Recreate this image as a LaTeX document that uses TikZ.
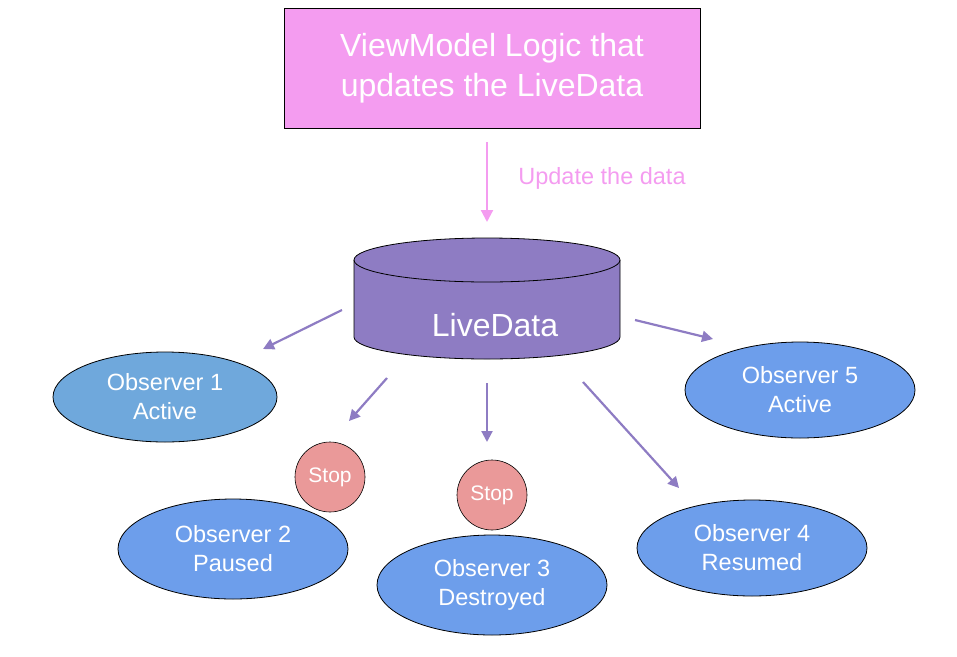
\documentclass[tikz,border=0pt]{standalone}
\usepackage{fontspec}
\setmainfont{Liberation Sans}
\usetikzlibrary{arrows.meta,shapes.geometric}
\definecolor{vmpink}{HTML}{F49CF0}
\definecolor{ldpurple}{HTML}{8E7CC3}
\definecolor{obsblue}{HTML}{6D9EEB}
\definecolor{obsblue1}{HTML}{6FA8DC}
\definecolor{stopred}{HTML}{EA9999}
\begin{document}
\begin{tikzpicture}[x=1pt,y=-1pt,
  obs/.style={ellipse,draw=black,line width=0.8pt,fill=obsblue,text=white,align=center,font=\fontsize{23.5}{29}\selectfont,minimum width=#1},
  stopc/.style={circle,draw=black,line width=0.6pt,fill=stopred,text=white,minimum size=70pt,inner sep=0pt,font=\fontsize{21}{24}\selectfont},
  parr/.style={draw=ldpurple,line width=2.2pt,-{Triangle[length=11pt,width=11pt]}},
  every node/.style={inner sep=0pt}]
\useasboundingbox (0,0) rectangle (957,656);
\node[draw=black,line width=0.8pt,fill=vmpink,minimum width=416pt,minimum height=120pt,text=white,align=center,font=\fontsize{32}{40}\selectfont] (vm) at (492,68) {ViewModel Logic that\\updates the LiveData};
% cylinder
\filldraw[fill=ldpurple,draw=black,line width=0.8pt] (354,260) -- (354,337) arc[start angle=180,end angle=0,x radius=133,y radius=22] -- (620,260) arc[start angle=0,end angle=-180,x radius=133,y radius=22] -- cycle;
\draw[black,line width=0.8pt] (354,260) arc[start angle=180,end angle=0,x radius=133,y radius=22];
\node[text=white,font=\fontsize{32}{36}\selectfont] (ld) at (495,325) {LiveData};
\coordinate (ldtop) at (487,222);
\draw[draw=vmpink,line width=2.2pt,-{Triangle[length=12pt,width=12pt]}] (487,142) -- (ldtop);
\node[text=vmpink,font=\fontsize{23.5}{28}\selectfont] (upd) at (602,178) {Update the data};
\node[obs=224pt,minimum height=90pt,fill=obsblue1] (o1) at (165,397) {Observer 1\\Active};
\node[obs=230pt,minimum height=100pt] (o2) at (233,549) {Observer 2\\Paused};
\node[obs=230pt,minimum height=100pt] (o3) at (492,585) {Observer 3\\Destroyed};
\node[obs=230pt,minimum height=96pt] (o4) at (752,548) {Observer 4\\Resumed};
\node[obs=230pt,minimum height=96pt] (o5) at (800,390) {Observer 5\\Active};
\node[stopc] (s2) at (330,477) {Stop};
\node[stopc] (s3) at (492,495) {Stop};
\coordinate (a1) at (342,310); \coordinate (b1) at (263,349);
\coordinate (a2) at (387,378); \coordinate (b2) at (349,421);
\coordinate (a3) at (487,383); \coordinate (b3) at (487,442);
\coordinate (a4) at (583,382); \coordinate (b4) at (679,488);
\coordinate (a5) at (635,320); \coordinate (b5) at (713,339);
\draw[parr] (a1) -- (b1);
\draw[parr] (a2) -- (b2);
\draw[parr] (a3) -- (b3);
\draw[parr] (a4) -- (b4);
\draw[parr] (a5) -- (b5);
\end{tikzpicture}
\end{document}
